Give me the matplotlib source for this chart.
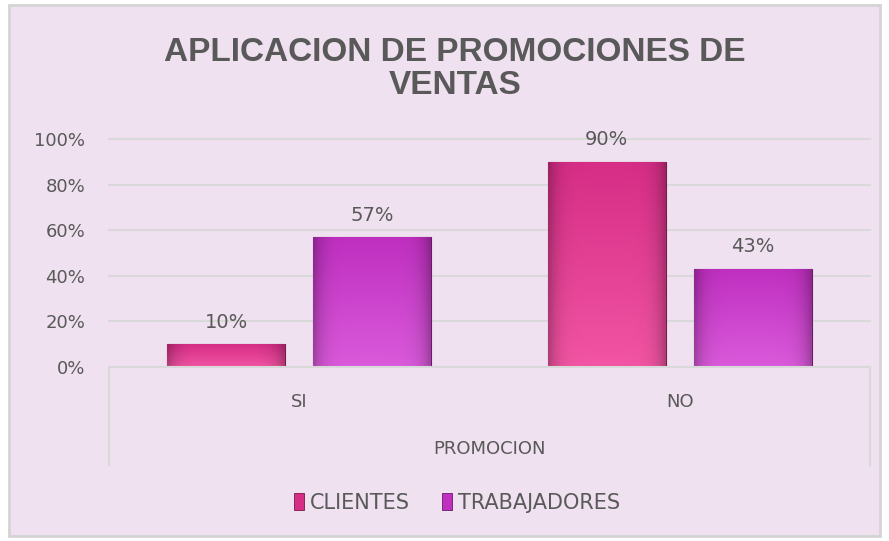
import numpy as np
import matplotlib.pyplot as plt
from matplotlib.patches import Patch, Rectangle
from matplotlib.lines import Line2D
from matplotlib.colors import to_rgb

# datos
categorias = ['SI', 'NO']
clientes = [0.10, 0.90]
trabajadores = [0.57, 0.43]
series = ['CLIENTES', 'TRABAJADORES']
yticks = [0, 0.2, 0.4, 0.6, 0.8, 1.0]
titulo = 'APLICACION DE PROMOCIONES DE\nVENTAS'
eje_x = 'PROMOCION'

W, H = 889, 541
fondo = '#EFE1F0'
gris = '#595959'
col_cli = ('#D62D86', '#F255A3')
col_tra = ('#BF2FC0', '#DA5ADB')

plt.rcParams['font.family'] = ['DejaVu Sans']
fig = plt.figure(figsize=(W / 100, H / 100), dpi=100, facecolor='white')

# marco del grafico
fig.patches.append(Rectangle((9 / W, 1 - 536 / H), 871 / W, 531 / H,
                             transform=fig.transFigure, facecolor=fondo,
                             edgecolor='#D4D4D4', lw=2, zorder=-5))

x0, x1, y0, y1 = 109, 870, 367, 139
ax = fig.add_axes([x0 / W, 1 - y0 / H, (x1 - x0) / W, (y0 - y1) / H])
ax.set_facecolor('none')

for s in ['top', 'right', 'left']:
    ax.spines[s].set_visible(False)
ax.spines['bottom'].set_color('#D9D9D9')
ax.spines['bottom'].set_linewidth(1.5)

ax.set_yticks(yticks)
ax.set_yticklabels([f'{int(round(v * 100))}%' for v in yticks], color=gris, fontsize=13)
ax.tick_params(axis='y', length=0, pad=17)
ax.grid(axis='y', color='#D9D9D9', lw=1.5)
ax.set_axisbelow(True)
for gl in ax.get_ygridlines():
    gl.set_clip_on(False)

ax.set_xticks(range(len(categorias)))
ax.set_xticklabels(categorias, color=gris, fontsize=13)
ax.tick_params(axis='x', length=0, pad=19)


def gradiente(bar, c_top, c_bot):
    xb, yb = bar.get_x(), bar.get_y()
    w, h = bar.get_width(), bar.get_height()
    t = np.linspace(0, 1, 60)[:, None]
    u = np.linspace(-1, 1, 40)[None, :]
    top = np.array(to_rgb(c_top))
    bot = np.array(to_rgb(c_bot))
    mix = (t[..., None] * bot + (1 - t[..., None]) * top)
    dark = 1 - 0.25 * (np.abs(u) ** 6)[..., None]
    img = np.clip(mix * dark, 0, 1)
    im = ax.imshow(img, extent=(xb, xb + w, yb, yb + h), origin='upper',
                   aspect='auto', zorder=2, interpolation='bilinear')
    im.set_clip_path(bar)


bw = 0.31
off = 0.192
pos = np.arange(len(categorias))
b1 = ax.bar(pos - off, clientes, bw, color=col_cli[0], edgecolor='#7A1848', lw=0.8, zorder=2)
b2 = ax.bar(pos + off, trabajadores, bw, color=col_tra[0], edgecolor='#6A1A6A', lw=0.8, zorder=2)
for b in b1:
    gradiente(b, *col_cli)
for b in b2:
    gradiente(b, *col_tra)
ax.set_xlim(-0.5, 1.5)
ax.set_ylim(0, 1)

for bars, vals in [(b1, clientes), (b2, trabajadores)]:
    for b, v in zip(bars, vals):
        ax.annotate(f'{int(round(v * 100))}%', (b.get_x() + b.get_width() / 2, v),
                    xytext=(0, 9), textcoords='offset points', ha='center',
                    va='bottom', color=gris, fontsize=14)

# caja de categorias debajo del eje
for xx in (x0, x1):
    fig.lines.append(Line2D([xx / W, xx / W], [1 - y0 / H, 1 - 465 / H],
                            transform=fig.transFigure, color='#D9D9D9', lw=1.5))

fig.text(489 / W, 1 - 449 / H, eje_x, ha='center', va='center', color=gris, fontsize=13)

fig.text(455 / W, 1 - 69 / H, titulo, ha='center', va='center', color=gris,
         fontsize=24, fontweight='bold', family='Liberation Sans', linespacing=1.05)

handles = [Patch(facecolor=col_cli[0], edgecolor='#7A1848', lw=0.6),
           Patch(facecolor=col_tra[0], edgecolor='#6A1A6A', lw=0.6)]
leg = fig.legend(handles, series, loc='center', bbox_to_anchor=(457 / W, 1 - 503 / H),
                 ncol=2, frameon=False, handlelength=0.5, handleheight=0.85,
                 handletextpad=0.3, columnspacing=1.5, fontsize=15)
for t in leg.get_texts():
    t.set_color(gris)

fig.savefig('out.png', dpi=100, facecolor=fig.get_facecolor())
